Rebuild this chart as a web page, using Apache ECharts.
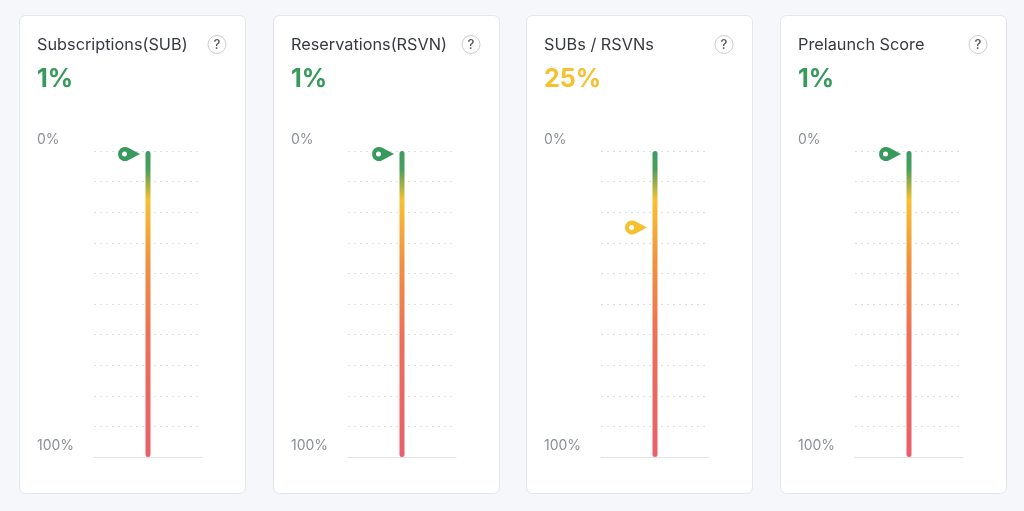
<!DOCTYPE html>
<html><head><meta charset="utf-8">
<script src="https://cdn.jsdelivr.net/npm/echarts@6/dist/echarts.min.js"></script>
<style>html,body{margin:0;padding:0;background:#f6f7fb;}#c{width:1024px;height:511px;}</style>
</head><body><div id="c"></div>
<script>
const titles = ['Subscriptions(SUB)', 'Reservations(RSVN)', 'SUBs / RSVNs', 'Prelaunch Score'];
const values = [1, 1, 25, 1];
const valueColors = ['#379a5c', '#379a5c', '#f6c12f', '#379a5c'];
const axisMin = 0, axisMax = 100;
const tickLabels = {0: '0%', 100: '100%'};

const cardLefts = [19, 273, 526, 780];
const cardW = 226;
const chart = echarts.init(document.getElementById('c'));
const font = 'Inter, Roboto, sans-serif';
const pinPath = 'path://M22 7 L10.27 0.81 A7 7 0 1 0 10.27 13.19 Z';

const grid = [], xAxis = [], yAxis = [], series = [], title = [], graphic = [];
cardLefts.forEach((L, i) => {
  graphic.push({type: 'rect', shape: {x: L + 0.5, y: 15.5, width: cardW, height: 478, r: 6},
    style: {fill: '#fff', stroke: '#e2e6ee', lineWidth: 1}, z: -10});
  graphic.push({type: 'circle', shape: {cx: L + 198, cy: 44.5, r: 9},
    style: {fill: '#fff', stroke: '#c9ccd3', lineWidth: 1}, z: 5});
  graphic.push({type: 'text', x: L + 198, y: 45, style: {text: '?', fill: '#555', font: '500 13px ' + font, textAlign: 'center', textVerticalAlign: 'middle'}, z: 6});
  title.push({text: titles[i], left: L + 18, top: 37, padding: 0, textStyle: {fontFamily: font, fontSize: 16.3, fontWeight: 'normal', color: '#36393f'}});
  title.push({text: values[i] + '%', left: L + 18, top: 67, padding: 0, textStyle: {fontFamily: font, fontSize: 25, fontWeight: 'bold', color: valueColors[i]}});
  grid.push({left: L + 75, width: 108, top: 151, height: 306});
  xAxis.push({gridIndex: i, type: 'category', data: [''], axisTick: {show: false}, axisLabel: {show: false},
    axisLine: {onZero: false, lineStyle: {color: '#dfe3ea', width: 1}}});
  yAxis.push({gridIndex: i, type: 'value', min: axisMin, max: axisMax, interval: 10, inverse: true,
    axisLine: {show: false}, axisTick: {show: false},
    splitLine: {lineStyle: {color: '#dcdfe5', type: [2, 4], width: 1}},
    axisLabel: {margin: 57, align: 'left', verticalAlign: 'bottom', padding: [0, 0, 4, 0], color: '#8a8e96', fontSize: 14, fontFamily: font,
      formatter: v => tickLabels[v] || ''}});
  series.push({type: 'bar', xAxisIndex: i, yAxisIndex: i, data: [axisMax], barWidth: 5,
    itemStyle: {borderRadius: 3, color: new echarts.graphic.LinearGradient(0, 0, 0, 1, [
      {offset: 0, color: '#3c9d62'}, {offset: 0.06, color: '#4a9e5c'}, {offset: 0.16, color: '#f6c133'},
      {offset: 0.35, color: '#f0943f'}, {offset: 0.6, color: '#ec7058'}, {offset: 1, color: '#e85f6b'}])},
    silent: true, z: 2});
  series.push({type: 'scatter', xAxisIndex: i, yAxisIndex: i, data: [values[i]], symbol: pinPath,
    symbolSize: [22, 14], symbolOffset: [-19, 0], itemStyle: {color: valueColors[i], opacity: 1}, silent: true, z: 3});
  series.push({type: 'scatter', xAxisIndex: i, yAxisIndex: i, data: [values[i]], symbol: 'circle',
    symbolSize: 5, symbolOffset: [-23.5, 0], itemStyle: {color: '#fff', opacity: 1}, silent: true, z: 4});
});
chart.setOption({backgroundColor: '#f6f7fb', animation: false, title, grid, xAxis, yAxis, series, graphic});
</script></body></html>
